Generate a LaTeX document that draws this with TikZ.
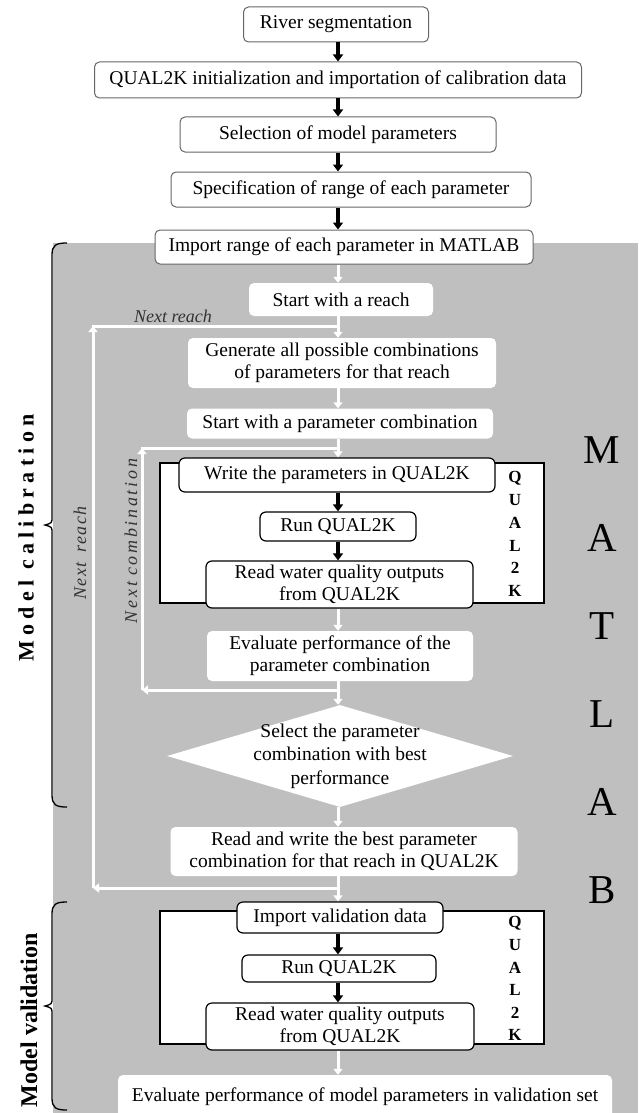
\documentclass[tikz,border=0pt]{standalone}
\usepackage{fontspec}
\setmainfont{Liberation Serif}
\usepackage{tikz}
\usetikzlibrary{calc,arrows.meta,shapes.geometric}

\begin{document}
\begin{tikzpicture}[x=1pt,y=-1pt,
    every node/.style={font=\fontsize{19.5}{22}\selectfont, inner sep=0pt},
    topbox/.style={draw=black!60, line width=1pt, fill=white, rounded corners=5pt, align=center},
    wbox/.style={fill=white, rounded corners=5pt, align=center},
    qbox/.style={draw=black, line width=1.2pt, fill=white, rounded corners=6pt, align=center},
    blk/.style={line width=3.3pt, -{Triangle[width=10pt,length=7pt]}},
    wht/.style={white, line width=3pt, -{Triangle[width=9pt,length=6pt]}},
    wline/.style={white, line width=3pt, line cap=rect},
    qletter/.style={font=\fontsize{17}{17}\selectfont\bfseries},
    mletter/.style={font=\fontsize{41}{41}\selectfont},
    loopnote/.style={font=\fontsize{18}{20}\selectfont\itshape, text=black!80},
]
    \useasboundingbox (0,0) rectangle (638,1113);
    \coordinate (axis) at (338,0);

    % =====================
    % Background and braces
    % =====================
    \fill[gray!50] (53,243) rectangle (638,1113);
    \foreach \t/\b in {243/807, 902/1110} {
        \pgfmathsetmacro\m{(\t+\b)/2}
        \draw[line width=1.3pt] (67,\t) .. controls (56,\t) and (52,\t+2) .. (52,\t+12)
            -- (52,\m-8) .. controls (52,\m-2) .. (45,\m) .. controls (52,\m+2) .. (52,\m+8)
            -- (52,\b-12) .. controls (52,\b-2) and (56,\b) .. (67,\b);
    }
    \node[rotate=90, font=\fontsize{22}{24}\selectfont\bfseries\addfontfeatures{LetterSpace=24}] (calib) at (26,538) {Model calibration};
    \node[rotate=90, font=\fontsize{24}{26}\selectfont\bfseries] (valid) at (29,1020) {Model validation};

    % =====================
    % Preparation
    % =====================
    \node[topbox, minimum width=185pt, minimum height=35pt] (river) at (336,24.5) {River segmentation};
    \node[topbox, minimum width=487pt, minimum height=36pt] (init) at (338,80) {QUAL2K initialization and importation of calibration data};
    \node[topbox, minimum width=316pt, minimum height=35pt] (select) at (338,134.5) {Selection of model parameters};
    \node[topbox, minimum width=360pt, minimum height=35pt] (spec) at (351,189.5) {Specification of range of each parameter};
    \node[topbox, minimum width=378pt, minimum height=34pt] (import) at (344,247) {Import range of each parameter in MATLAB};

    \draw[blk] (river.south -| axis) -- (init.north -| axis);
    \draw[blk] (init.south -| axis) -- (select.north -| axis);
    \draw[blk] (select.south -| axis) -- (spec.north -| axis);
    \draw[blk] (spec.south -| axis) -- (import.north -| axis);

    % =====================
    % Calibration loops
    % =====================
    \coordinate (nrj) at (338,888);
    \coordinate (nrl) at (93,888);
    \coordinate (nrt) at (93,326);
    \coordinate (nrk) at (338,326);
    \draw[wht] (nrj) -- (nrl);
    \draw[wht] (nrl) -- (nrt);
    \draw[wline] (nrt) -- (nrk);

    \coordinate (ncj) at (338,690);
    \coordinate (ncl) at (142,690);
    \coordinate (nct) at (142,448);
    \coordinate (nck) at (338,448);
    \draw[wht] (ncj) -- (ncl);
    \draw[wht] (ncl) -- (nct);
    \draw[wline] (nct) -- (nck);

    \node[loopnote] (nrlab) at (173,316) {Next reach};
    \node[loopnote, rotate=90, font=\fontsize{18}{20}\selectfont\itshape\addfontfeatures{LetterSpace=8}] (nrside) at (80,553) {Next\hspace{10pt}reach};
    \node[loopnote, rotate=90, font=\fontsize{18}{20}\selectfont\itshape\addfontfeatures{LetterSpace=15}] (ncside) at (131,541) {Next\hspace{6pt}combination};

    \node[wbox, minimum width=184pt, minimum height=33pt] (reach) at (341,299.5) {Start with a reach};
    \node[wbox, minimum width=308pt, minimum height=50pt] (gen) at (342,363) {Generate all possible combinations\\of parameters for that reach};
    \node[wbox, minimum width=306pt, minimum height=30pt] (comb) at (340,423.5) {Start with a parameter combination};

    % QUAL2K run inside the loop
    \draw[line width=2pt, fill=white] (159.5,463) rectangle (544,603);
    \node[qbox, minimum width=316pt, minimum height=34pt] (write) at (337,475) {Write the parameters in QUAL2K};
    \node[qbox, minimum width=156pt, minimum height=29pt] (run) at (338,526.5) {Run QUAL2K};
    \node[qbox, minimum width=267pt, minimum height=47pt] (read) at (339.5,584.5) {Read water quality outputs\\from QUAL2K};
    \foreach \c [count=\i from 0] in {Q,U,A,L,2,K} {
        \node[qletter] (qa\i) at (515,478+22.5*\i) {\c};
    }

    \node[wbox, minimum width=266pt, minimum height=50pt] (eval) at (340,656) {Evaluate performance of the\\parameter combination};
    \node[diamond, fill=white, minimum width=346pt, minimum height=102pt, aspect=3.39] (sel) at (340,756) {};
    \node[align=center, font=\fontsize{19.5}{23.5}\selectfont] (seltext) at (sel) {Select the parameter\\combination with best\\performance};
    \node[wbox, minimum width=347pt, minimum height=49pt] (rw) at (344,851.5) {Read and write the best parameter\\combination for that reach in QUAL2K};

    \draw[wht] (import.south -| axis) -- (reach.north -| axis);
    \draw[wht] (reach.south -| axis) -- (gen.north -| axis);
    \draw[wht] (gen.south -| axis) -- (comb.north -| axis);
    \draw[wht] (comb.south -| axis) -- (write.north -| axis);
    \draw[blk] (write.south -| axis) -- (run.north -| axis);
    \draw[blk] (run.south -| axis) -- (read.north -| axis);
    \draw[wht] (read.south -| axis) -- (eval.north -| axis);
    \draw[wht] (eval.south -| axis) -- (sel.north -| axis);
    \draw[wht] (sel.south -| axis) -- (rw.north -| axis);

    % =====================
    % Validation
    % =====================
    \draw[line width=2pt, fill=white] (159.5,911) rectangle (544,1044);
    \node[qbox, minimum width=206pt, minimum height=31pt] (vimport) at (340,917.5) {Import validation data};
    \node[qbox, minimum width=194pt, minimum height=27pt] (vrun) at (339,968.5) {Run QUAL2K};
    \node[qbox, minimum width=268pt, minimum height=47pt] (vread) at (340,1026.5) {Read water quality outputs\\from QUAL2K};
    \foreach \c [count=\i from 0] in {Q,U,A,L,2,K} {
        \node[qletter] (qb\i) at (515,923+22.4*\i) {\c};
    }
    \node[wbox, minimum width=494pt, minimum height=44pt] (final) at (365,1097) {Evaluate performance of model parameters in validation set};

    \draw[wht] (rw.south -| axis) -- (vimport.north -| axis);
    \draw[blk] (vimport.south -| axis) -- (vrun.north -| axis);
    \draw[blk] (vrun.south -| axis) -- (vread.north -| axis);
    \draw[wht] (vread.south -| axis) -- (final.north -| axis);

    % MATLAB down the right side
    \foreach \c [count=\i from 0] in {M,A,T,L,A,B} {
        \node[mletter] (ml\i) at (602,450+88*\i) {\c};
    }
\end{tikzpicture}
\end{document}
